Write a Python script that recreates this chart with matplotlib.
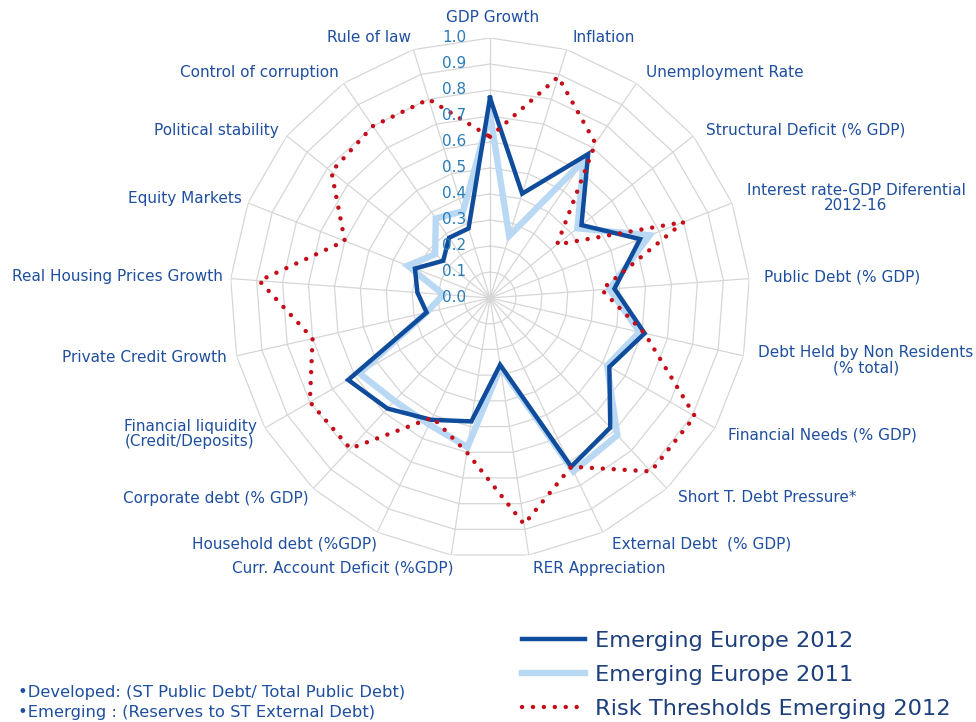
import numpy as np
import matplotlib
matplotlib.use("Agg")
import matplotlib.pyplot as plt

categories = [
    "GDP Growth", "Inflation", "Unemployment Rate", "Structural Deficit (% GDP)",
    "Interest rate-GDP Diferential\n2012-16", "Public Debt (% GDP)",
    "Debt Held by Non Residents\n(% total)", "Financial Needs (% GDP)",
    "Short T. Debt Pressure*", "External Debt  (% GDP)", "RER Appreciation",
    "Curr. Account Deficit (%GDP)", "Household debt (%GDP)", "Corporate debt (% GDP)",
    "Financial liquidity\n(Credit/Deposits)", "Private Credit Growth",
    "Real Housing Prices Growth", "Equity Markets", "Political stability",
    "Control of corruption", "Rule of law",
]

emerging_2012 = [0.77, 0.42, 0.67, 0.45, 0.62, 0.48, 0.61, 0.53, 0.68, 0.72, 0.26,
                 0.48, 0.52, 0.58, 0.63, 0.25, 0.28, 0.31, 0.23, 0.28, 0.28]
emerging_2011 = [0.71, 0.25, 0.64, 0.43, 0.66, 0.46, 0.59, 0.52, 0.72, 0.74, 0.27,
                 0.58, 0.54, 0.54, 0.58, 0.25, 0.18, 0.34, 0.27, 0.37, 0.35]
risk_thresholds = [0.62, 0.89, 0.72, 0.33, 0.80, 0.43, 0.61, 0.91, 0.91, 0.72, 0.88,
                   0.60, 0.51, 0.79, 0.80, 0.70, 0.89, 0.60, 0.78, 0.80, 0.80]

series_names = ["Emerging Europe 2012", "Emerging Europe 2011", "Risk Thresholds Emerging 2012"]
ring_levels = [0.1, 0.2, 0.3, 0.4, 0.5, 0.6, 0.7, 0.8, 0.9, 1.0]
tick_levels = [0.0, 0.1, 0.2, 0.3, 0.4, 0.5, 0.6, 0.7, 0.8, 0.9, 1.0]

footnotes = ["\u2022Developed: (ST Public Debt/ Total Public Debt)",
             "\u2022Emerging : (Reserves to ST External Debt)"]

# ---------------- layout ----------------
W, H = 976, 722
fig = plt.figure(figsize=(W / 100, H / 100), dpi=100)
cx, cy, R = 490, 298, 260
ax = fig.add_axes([(cx - R) / W, 1 - (cy + R) / H, 2 * R / W, 2 * R / H], projection="polar")
ax.set_theta_zero_location("N")
ax.set_theta_direction(-1)
ax.set_ylim(0, 1)
ax.grid(False)
ax.set_xticks([])
ax.set_yticks([])
ax.spines["polar"].set_visible(False)
ax.patch.set_alpha(0)

n = len(categories)
theta = np.arange(n) * 2 * np.pi / n
theta_c = np.append(theta, theta[0])

grid_col = "#d6d6d6"
for r in ring_levels:
    ax.plot(theta_c, [r] * (n + 1), color=grid_col, lw=0.9, zorder=1)
for t in theta:
    ax.plot([t, t], [0, 1], color=grid_col, lw=0.9, zorder=1)

def closed(v):
    return list(v) + [v[0]]

l1, = ax.plot(theta_c, closed(emerging_2012), color="#0f4c9c", lw=3.2, zorder=4,
              solid_joinstyle="miter", label=series_names[0])
l2, = ax.plot(theta_c, closed(emerging_2011), color="#b9d8f4", lw=4.6, zorder=3,
              solid_joinstyle="miter", label=series_names[1])
l3, = ax.plot(theta_c, closed(risk_thresholds), color="#c40f1a", lw=3.2, zorder=5,
              linestyle=(0, (0.01, 2.45)), dash_capstyle="round", label=series_names[2])

# radial tick labels
for v in tick_levels:
    ax.annotate(f"{v:.1f}", xy=(0, v), xytext=(-17, 0), textcoords="offset points",
                ha="right", va="center", fontsize=11, color="#2a7cb8", zorder=6)

# category labels (pixel anchors, alignment)
label_pos = [
    (493, 17, "center"), (573, 38, "left"), (646, 73, "left"), (706, 130, "left"),
    (856, 198, "center"), (764, 277, "left"), (866, 360, "center"), (728, 435, "left"),
    (678, 498, "left"), (612, 544, "left"), (533, 568, "left"),
    (453, 568, "right"), (377, 544, "right"), (309, 498, "right"),
    (190, 434, "center"), (227, 358, "right"), (223, 277, "right"),
    (242, 199, "right"), (279, 130, "right"), (339, 73, "right"), (411, 38, "right"),
]
lab_col = "#1f4f9e"
for name, (x, y, ha) in zip(categories, label_pos):
    fig.text(x / W, 1 - y / H, name, ha=ha, va="center", fontsize=11,
             color=lab_col, linespacing=1.05, multialignment="center")

# legend
leg = fig.legend(handles=[l1, l2, l3], loc="upper left",
                 bbox_to_anchor=(522 / W, 1 - 631 / H), frameon=False,
                 fontsize=16.2, handlelength=2.8, handletextpad=0.43,
                 labelspacing=0.62, borderpad=0, borderaxespad=0)
for t in leg.get_texts():
    t.set_color("#1d3f7c")

# footnotes
fig.text(18 / W, 1 - 693 / H, footnotes[0], ha="left", va="center", fontsize=11.8, color=lab_col)
fig.text(18 / W, 1 - 712 / H, footnotes[1], ha="left", va="center", fontsize=11.8, color=lab_col)

fig.savefig("out.png", dpi=100)
